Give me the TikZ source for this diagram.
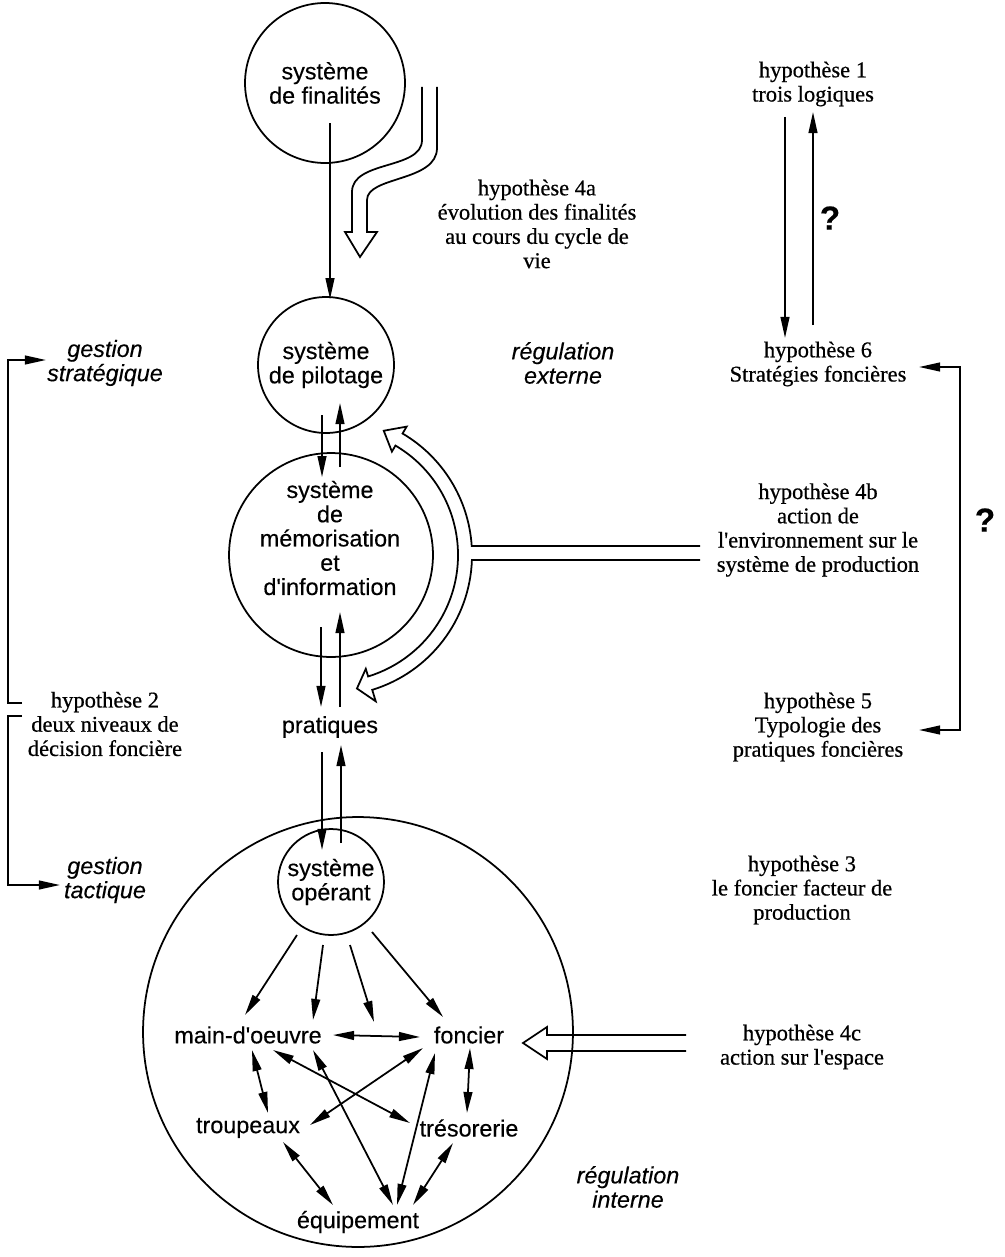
\documentclass[tikz,border=0pt]{standalone}
\usepackage{fontspec}
\setmainfont{Liberation Serif}[FakeBold=0.6]
\setsansfont{Liberation Sans}[FakeBold=0.3]
\usetikzlibrary{arrows.meta,calc}

\begin{document}
\begin{tikzpicture}[
        x=0.02cm, y=-0.02cm,
        every path/.append style={line width=1pt},
        arr/.style={-{Triangle[length=12pt,width=5pt]}},
        dblarr/.style={{Triangle[length=12pt,width=5pt]}-{Triangle[length=12pt,width=5pt]}},
        hollow/.style={line width=1pt,line join=miter},
        sys/.style={font=\sffamily\fontsize{13.3}{13.8}\selectfont,align=center,inner sep=1pt},
        syscircle/.style={circle,draw,inner sep=0pt,minimum size=#1},
        level/.style={font=\sffamily\itshape\fontsize{13.3}{13.8}\selectfont,align=center,inner sep=1pt},
        hyp/.style={font=\fontsize{12.8}{13.8}\selectfont,align=center,inner sep=1pt},
        query/.style={font=\sffamily\bfseries\fontsize{19}{19}\selectfont,inner sep=0pt}
    ]
        \useasboundingbox (0,0) rectangle (1004,1257);

        % the systems
        \node [syscircle=3.2cm,sys]  (fin) at (325,83)  {système\\de finalités};
        \node [syscircle=2.72cm,sys] (pil) at (326,365) {système\\de pilotage};
        \node [syscircle=4.08cm]     (mem) at (331,555) {};
        \node [sys] (memtext) at (330,538) {système\\de\\mémorisation\\et\\d\textquotesingle information};
        \node [sys] (pra) at (330,727) {pratiques};
        \node [syscircle=8.6cm]      (prod) at (358,1032) {};
        \node [syscircle=2.12cm,sys] (op)  at (331,882) {système\\opérant};

        % the means of production
        \node [sys] (mo)  at (248,1035) {main-d\textquotesingle oeuvre};
        \node [sys] (fon) at (469,1035) {foncier};
        \node [sys] (tro) at (248,1128) {troupeaux};
        \node [sys] (tre) at (469,1128) {trésorerie};
        \node [sys] (equ) at (358,1222) {équipement};

        % levels
        \node [level] (gstrat) at (105,363)  {gestion\\stratégique};
        \node [level] (gtact)  at (105,880)  {gestion\\tactique};
        \node [level] (rext)   at (563,363)  {régulation\\externe};
        \node [level] (rint)   at (628,1187) {régulation\\interne};

        % hypotheses
        \node [hyp] (h1)  at (813,84)   {hypothèse 1\\trois logiques};
        \node [hyp] (h4a) at (537,224)  {hypothèse 4a\\évolution des finalités\\au cours du cycle de\\vie};
        \node [hyp] (h6)  at (818,364)  {hypothèse 6\\Stratégies foncières};
        \node [hyp] (h4b) at (818,530)  {hypothèse 4b\\action de\\l\textquotesingle environnement sur le\\système de production};
        \node [hyp] (h2)  at (105,724)  {hypothèse 2\\deux niveaux de\\décision foncière};
        \node [hyp] (h5)  at (818,727)  {hypothèse 5\\Typologie des\\pratiques foncières};
        \node [hyp] (h3)  at (802,890)  {hypothèse 3\\le foncier facteur de\\production};
        \node [hyp] (h4c) at (802,1047) {hypothèse 4c\\action sur l\textquotesingle espace};

        \node [query] (q1) at (830,218) {?};
        \node [query] (q2) at (985,520) {?};

        % flows between the systems
        \draw [arr] ($(fin)+(5,40)$) -- ($(pil.north)+(4,3)$);
        \draw [arr] ($(pil)+(-4,50)$) -- ($(mem.north)+(-9,25)$);
        \draw [arr] ($(mem.north)+(9,15)$) -- ($(pil)+(14,38)$);
        \draw [arr] ($(mem)+(-10,72)$) -- ($(pra)+(-9,-20)$);
        \draw [arr] ($(pra)+(10,-20)$) -- ($(mem)+(9,57)$);
        \draw [arr] ($(pra)+(-8,25)$) -- ($(op)+(-9,-32)$);
        \draw [arr] ($(op)+(10,-39)$) -- ($(pra)+(11,18)$);

        \draw [arr] ($(op)+(-34,53)$) -- ($(mo)+(-3,-20)$);
        \draw [arr] ($(op)+(-8,63)$)  -- ($(mo)+(65,-15)$);
        \draw [arr] ($(op)+(19,63)$)  -- ($(fon)+(-95,-13)$);
        \draw [arr] ($(op)+(41,50)$)  -- ($(fon)+(-26,-18)$);

        \draw [dblarr] ($(mo)+(85,0)$)   -- ($(fon)+(-49,2)$);
        \draw [dblarr] ($(mo)+(4,15)$)   -- ($(tro)+(20,-15)$);
        \draw [dblarr] ($(mo)+(25,15)$)  -- ($(tre)+(-59,-5)$);
        \draw [dblarr] ($(mo)+(65,15)$)  -- ($(equ)+(35,-17)$);
        \draw [dblarr] ($(fon)+(-46,13)$) -- ($(tro)+(62,-3)$);
        \draw [dblarr] ($(fon)+(-34,18)$) -- ($(equ)+(39,-17)$);
        \draw [dblarr] ($(fon)+(1,13)$)  -- ($(tre)+(-2,-15)$);
        \draw [dblarr] ($(tro)+(35,14)$) -- ($(equ)+(-25,-17)$);
        \draw [dblarr] ($(tre)+(-16,15)$) -- ($(equ)+(55,-17)$);

        % hypotheses 1 and 6
        \draw [arr] ($(h1)+(-28,33)$) -- ($(h6)+(-33,-26)$);
        \draw [arr] ($(h6)+(-5,-39)$) -- ($(h1)+(0,28)$);

        % brackets
        \coordinate (gs-tip) at (46,360);
        \coordinate (gt-tip) at (60,885);
        \coordinate (rb6) at (919,367);
        \coordinate (rb5) at (919,730);
        \draw [arr] (22,703) -- (8,703) |- (gs-tip);
        \draw [arr] (22,716) -- (8,716) |- (gt-tip);
        \draw [dblarr] (rb6) -- ++(41,0) |- (rb5);

        % hollow arrows
        \draw [hollow] (422,87) -- (422,140) .. controls (422,170) and (352,160) .. (352,192)
            -- (352,232) -- (345,232) -- (360,257) -- (377,232) -- (367,232) -- (367,200)
            .. controls (367,176) and (437,182) .. (437,148) -- (437,87);
        \begin{scope}[shift={(331,555)}]
            \draw [hollow] (369,-9) -- (-3.66:141) arc[start angle=-3.66,end angle=-59.5,radius=141]
                -- (-59.5:149) -- (-67:135) -- (-59.5:120) -- (-59.5:127)
                arc[start angle=-59.5,end angle=73,radius=127]
                -- (73:119) -- (79:136) -- (73:153) -- (73:141)
                arc[start angle=73,end angle=2.03,radius=141] -- (369,5);
        \end{scope}
        \draw [hollow] (686,1035) -- (547,1035) -- (547,1027) -- (523,1043) -- (547,1059)
            -- (547,1051) -- (686,1051);
    \end{tikzpicture}
\end{document}
